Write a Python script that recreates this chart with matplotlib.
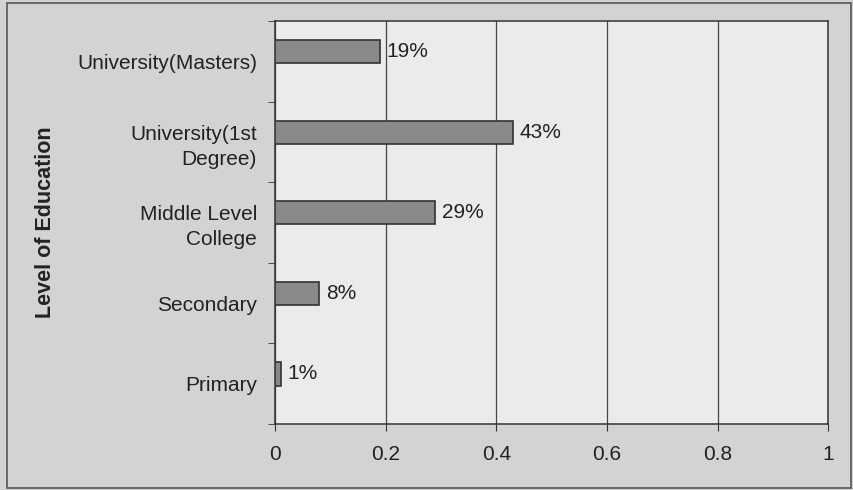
import numpy as np
import matplotlib
matplotlib.use('Agg')
import matplotlib.pyplot as plt
from matplotlib.patches import Rectangle

plt.rcParams['font.family'] = ['Liberation Sans', 'DejaVu Sans']

# Level of education, bottom to top
levels = ['Primary', 'Secondary', 'Middle Level\nCollege', 'University(1st\nDegree)',
          'University(Masters)']
shares = [0.01, 0.08, 0.29, 0.43, 0.19]
labels = ['1%', '8%', '29%', '43%', '19%']
x_ticks = [0, 0.2, 0.4, 0.6, 0.8, 1]
x_ticklabels = ['0', '0.2', '0.4', '0.6', '0.8', '1']

fig = plt.figure(figsize=(8.54, 4.9), dpi=100, facecolor='#d3d3d3')
fig.patches.append(Rectangle((0.008, 0.004), 0.988, 0.99, transform=fig.transFigure,
                             fill=False, edgecolor='#555555', linewidth=1.2))
ax = fig.add_axes([0.322, 0.135, 0.648, 0.822])
ax.set_facecolor('#ebebeb')

pos = np.arange(len(levels))
bar_off = 0.12  # bars sit a little above the category centre
ax.barh(pos + bar_off, shares, height=0.29, color='#8a8a8a', edgecolor='#333333',
        linewidth=1.2, zorder=3)
for p, s, lab in zip(pos, shares, labels):
    ax.text(s + 0.012, p + bar_off, lab, va='center', ha='left', fontsize=15, color='#222222')

ax.set_xlim(0, 1)
ax.set_ylim(-0.5, len(levels) - 0.5)
ax.set_xticks(x_ticks)
ax.set_xticklabels(x_ticklabels, fontsize=15, color='#222222')
ax.set_yticks(pos)
ax.set_yticklabels(levels, fontsize=15, color='#222222', linespacing=1.4)
ax.set_yticks(np.arange(-0.5, len(levels) - 0.4, 1), minor=True)
ax.tick_params(axis='y', which='major', length=0, pad=13)
ax.tick_params(axis='y', which='minor', length=5, color='#333333')
ax.tick_params(axis='x', length=5, color='#333333', pad=10)
ax.grid(axis='x', color='#444444', linewidth=0.9, zorder=1)
for sp in ax.spines.values():
    sp.set_color('#333333')
    sp.set_linewidth(1.1)

ax.set_ylabel('Level of Education', fontsize=15.5, fontweight='bold', color='#222222')
ax.yaxis.set_label_coords(-0.395, 0.5)

plt.savefig('out.png', dpi=100, facecolor=fig.get_facecolor())
